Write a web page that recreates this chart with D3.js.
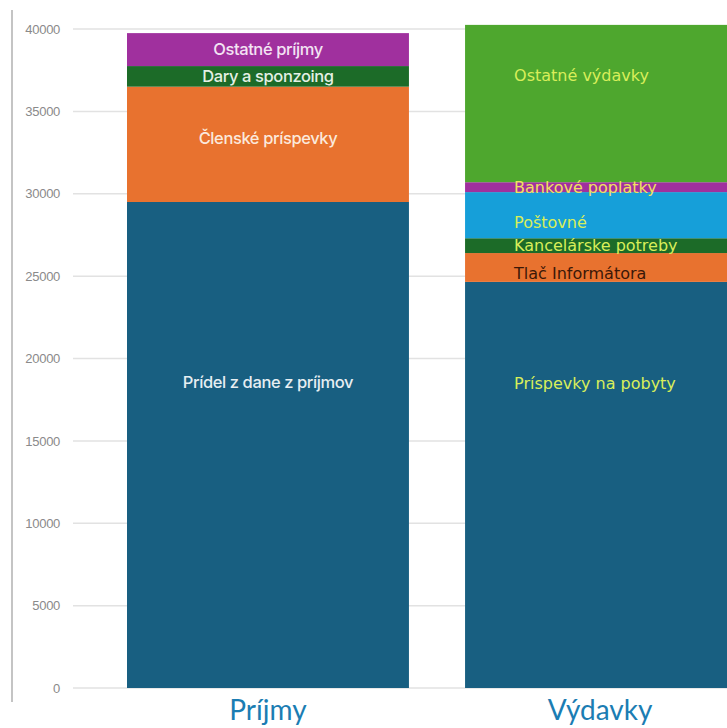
<!DOCTYPE html>
<html><head><meta charset="utf-8">
<script src="https://cdn.jsdelivr.net/npm/d3@7/dist/d3.min.js"></script>
<style>html,body{margin:0;padding:0;background:#fff;overflow:hidden}</style>
</head><body>
<script>
const categories = ["Príjmy", "Výdavky"];
const incomeLabels = ["Prídel z dane z príjmov", "Členské príspevky", "Dary a sponzoing", "Ostatné príjmy"];
const incomeValues = [29500, 7000, 1250, 2000];
const expenseLabels = ["Príspevky na pobyty", "Tlač Informátora", "Kancelárske potreby", "Poštovné", "Bankové poplatky", "Ostatné výdavky"];
const expenseValues = [24650, 1750, 900, 2800, 600, 9550];
const yTicks = [0, 5000, 10000, 15000, 20000, 25000, 30000, 35000, 40000];

const incomeColors = ["#185f81", "#e8722f", "#1c6b28", "#a0309e"];
const expenseColors = ["#185f81", "#e8722f", "#1c6b28", "#169fd9", "#a0309e", "#4ea72e"];
const incomeText = ["#e6eef2", "#fbe9dc", "#e4f0e4", "#f3e3f3"];
const expenseText = ["#d8ee5a", "#3b1808", "#d8ee5a", "#d8ee5a", "#f0e060", "#d8ee5a"];
// label anchor inside segment, as fraction from bottom of segment
const incomeLabelFrac = [0.63, 0.55, 0.5, 0.5];
const expenseLabelFrac = [0.75, 0.31, 0.5, 0.35, 0.5, 0.68];

const W = 727, H = 728;
const svg = d3.select("body").append("svg").attr("width", W).attr("height", H);

const y = d3.scaleLinear().domain([0, 40000]).range([688, 29]);
const x = d3.scaleBand().domain(categories).range([127, 747]).paddingInner(0.166).paddingOuter(0);

// left vertical rule
svg.append("line").attr("x1", 12).attr("x2", 12).attr("y1", 10).attr("y2", 702)
  .attr("stroke", "#c4c4c4").attr("stroke-width", 2);

// gridlines
svg.append("g").selectAll("line").data(yTicks).join("line")
  .attr("x1", 73).attr("x2", W).attr("y1", d => y(d)).attr("y2", d => y(d))
  .attr("stroke", "#e2e2e2").attr("stroke-width", 1.5);

// y axis labels
const yAxis = d3.axisLeft(y).tickValues(yTicks).tickSize(0).tickPadding(0).tickFormat(d3.format("d"));
const ga = svg.append("g").attr("transform", "translate(60,0)").call(yAxis);
ga.select(".domain").remove();
ga.selectAll("text").attr("fill", "#8a8a8a").attr("font-family", "'Liberation Sans Narrow', 'Liberation Sans', sans-serif")
  .attr("font-size", 13).attr("letter-spacing", -0.3);

function stack(vals) {
  let acc = 0;
  return vals.map(v => { const s = { y0: acc, y1: acc + v }; acc += v; return s; });
}

function drawBar(cat, labels, vals, colors, textColors, fracs, align, font, size, ls) {
  const st = stack(vals);
  const g = svg.append("g");
  g.selectAll("rect").data(st).join("rect")
    .attr("x", x(cat)).attr("width", x.bandwidth())
    .attr("y", d => y(d.y1)).attr("height", d => y(d.y0) - y(d.y1))
    .attr("fill", (d, i) => colors[i]);
  g.selectAll("text").data(st).join("text")
    .attr("x", align === "middle" ? x(cat) + x.bandwidth() / 2 : x(cat) + 49)
    .attr("y", (d, i) => y(d.y0 + (d.y1 - d.y0) * fracs[i]))
    .attr("dy", "0.35em")
    .attr("text-anchor", align)
    .attr("fill", (d, i) => textColors[i])
    .attr("font-family", font)
    .attr("font-size", size)
    .attr("font-weight", 500)
    .attr("letter-spacing", ls)
    .text((d, i) => labels[i]);
}

drawBar("Príjmy", incomeLabels, incomeValues, incomeColors, incomeText, incomeLabelFrac, "middle", "Inter, sans-serif", 16.5, -0.4);
drawBar("Výdavky", expenseLabels, expenseValues, expenseColors, expenseText, expenseLabelFrac, "start", "'DejaVu Sans', sans-serif", 16, 0);

// category labels
svg.append("g").selectAll("text").data(categories).join("text")
  .attr("x", d => x(d) + x.bandwidth() / 2 - (d === "Výdavky" ? 6 : 0))
  .attr("y", 720)
  .attr("text-anchor", "middle")
  .attr("fill", "#1b7db3")
  .attr("font-family", "Lato, 'Open Sans', sans-serif")
  .attr("font-size", 28)
  .text(d => d);
</script>
</body></html>
